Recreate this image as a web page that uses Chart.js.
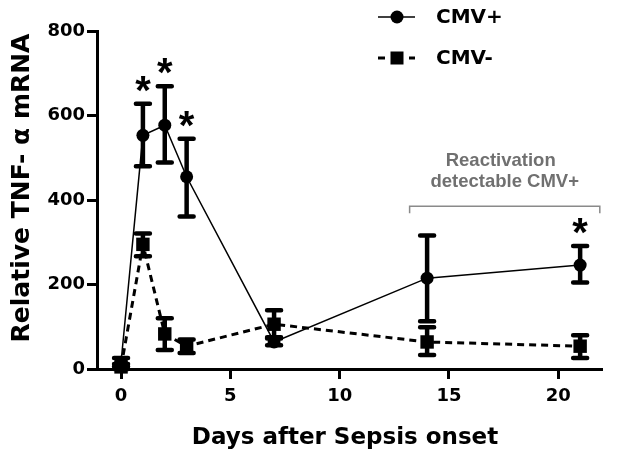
<!DOCTYPE html>
<html>
<head>
<meta charset="utf-8">
<script src="https://cdn.jsdelivr.net/npm/chart.js@4.4.1/dist/chart.umd.min.js"></script>
<style>
  html, body { margin: 0; padding: 0; background: #fff; }
  canvas { display: block; }
</style>
</head>
<body>
<canvas id="grafico" width="618" height="459"></canvas>
<script>
// dias apos o inicio da sepse
const dias = [0, 1, 2, 3, 7, 14, 21];

// CMV+ (circulos, linha continua)
const cmvPos = [16, 553, 577, 455, 64, 215, 246];
const cmvPosAlto = [26, 628, 669, 545, 72, 316, 291];
const cmvPosBaixo = [6, 480, 489, 361, 56, 113, 205];
const cmvPosSig = [false, true, true, true, false, false, true];

// CMV- (quadrados, linha tracejada)
const cmvNeg = [5, 295, 83, 54, 106, 64, 54];
const cmvNegAlto = [12, 321, 120, 70, 139, 99, 80];
const cmvNegBaixo = [0, 267, 45, 38, 75, 33, 26];

const ticksX = [0, 5, 10, 15, 20];
const ticksY = [0, 200, 400, 600, 800];

// faixa de reativacao (em dias) e altura do colchete
const faixaReativacao = [13.2, 21.9];
const alturaColchete = 385;

const fonteNum = "'DejaVu Sans', sans-serif";
const fonteAnot = "'Liberation Sans', Arial, sans-serif";

const extras = {
  id: 'extras',
  beforeDatasetsDraw(chart) {
    const ctx = chart.ctx;
    const x = chart.scales.x, y = chart.scales.y;
    const series = [[cmvPosAlto, cmvPosBaixo], [cmvNegAlto, cmvNegBaixo]];
    ctx.save();
    ctx.strokeStyle = '#000';
    ctx.lineWidth = 4.5;
    ctx.setLineDash([]);
    series.forEach(function (s) {
      dias.forEach(function (d, j) {
        const px = x.getPixelForValue(d);
        const yA = y.getPixelForValue(s[0][j]);
        const yB = y.getPixelForValue(s[1][j]);
        ctx.lineCap = 'butt';
        ctx.beginPath();
        ctx.moveTo(px, yA);
        ctx.lineTo(px, yB);
        ctx.stroke();
        ctx.lineCap = 'round';
        ctx.beginPath();
        ctx.moveTo(px - 7, yA); ctx.lineTo(px + 7, yA);
        ctx.moveTo(px - 7, yB); ctx.lineTo(px + 7, yB);
        ctx.stroke();
      });
    });
    ctx.restore();
  },
  afterDatasetsDraw(chart) {
    const ctx = chart.ctx;
    const x = chart.scales.x, y = chart.scales.y;
    ctx.save();

    // asteriscos
    ctx.fillStyle = '#000';
    ctx.font = 'bold 40px ' + fonteAnot;
    ctx.textAlign = 'center';
    ctx.textBaseline = 'alphabetic';
    cmvPosSig.forEach(function (sig, j) {
      if (!sig) return;
      const px = x.getPixelForValue(dias[j]);
      const py = y.getPixelForValue(cmvPosAlto[j]) - 23;
      ctx.fillText('*', px, py + 23);
    });

    // colchete de reativacao
    const x1 = x.getPixelForValue(faixaReativacao[0]);
    const x2 = x.getPixelForValue(faixaReativacao[1]);
    const yc = y.getPixelForValue(alturaColchete);
    ctx.strokeStyle = '#8a8a8a';
    ctx.lineWidth = 1.5;
    ctx.beginPath();
    ctx.moveTo(x1, yc + 7); ctx.lineTo(x1, yc); ctx.lineTo(x2, yc); ctx.lineTo(x2, yc + 7);
    ctx.stroke();
    ctx.fillStyle = '#707070';
    ctx.font = 'bold 18.5px ' + fonteAnot;
    ctx.textBaseline = 'middle';
    const xm = (x1 + x2) / 2;
    ctx.fillText('Reactivation', xm - 4, yc - 45);
    ctx.fillText('detectable CMV+', xm, yc - 24);

    // legenda
    ctx.fillStyle = '#000';
    ctx.strokeStyle = '#000';
    ctx.lineWidth = 1.5;
    ctx.beginPath();
    ctx.moveTo(378, 17); ctx.lineTo(415, 17);
    ctx.stroke();
    ctx.beginPath();
    ctx.arc(397, 17, 6.5, 0, Math.PI * 2);
    ctx.fill();
    ctx.lineWidth = 3;
    ctx.beginPath();
    ctx.moveTo(378, 58); ctx.lineTo(385, 58);
    ctx.moveTo(409, 58); ctx.lineTo(415, 58);
    ctx.stroke();
    ctx.fillRect(390.5, 51.5, 13, 13);
    ctx.font = 'bold 20px ' + fonteNum;
    ctx.textAlign = 'left';
    ctx.fillText('CMV+', 436, 18);
    ctx.fillText('CMV-', 436, 59);

    // titulos dos eixos
    ctx.textAlign = 'center';
    ctx.font = 'bold 23px ' + fonteNum;
    ctx.fillText('Days after Sepsis onset', 345, 438);
    ctx.translate(22, 188);
    ctx.rotate(-Math.PI / 2);
    ctx.font = 'bold 25px ' + fonteNum;
    ctx.fillText('Relative TNF- \u03b1 mRNA', 0, 0);
    ctx.restore();
  }
};

const ctx = document.getElementById('grafico').getContext('2d');
const grafico = new Chart(ctx, {
  type: 'line',
  data: {
    labels: dias,
    datasets: [{
      label: 'CMV+',
      data: dias.map(function (d, i) { return { x: d, y: cmvPos[i] }; }),
      borderColor: '#000',
      backgroundColor: '#000',
      borderWidth: 1.5,
      pointStyle: 'circle',
      pointRadius: 6.5,
      pointHoverRadius: 6.5,
      pointBorderWidth: 0,
      tension: 0,
      clip: false
    }, {
      label: 'CMV-',
      data: dias.map(function (d, i) { return { x: d, y: cmvNeg[i] }; }),
      borderColor: '#000',
      backgroundColor: '#000',
      borderWidth: 3,
      borderDash: [7, 5],
      pointStyle: 'rect',
      pointRadius: 9.5,
      pointHoverRadius: 9.5,
      pointBorderWidth: 0,
      tension: 0,
      clip: false
    }]
  },
  options: {
    responsive: false,
    animation: false,
    layout: { padding: { top: 31, right: 16, left: 0, bottom: 0 } },
    plugins: {
      legend: { display: false },
      tooltip: { enabled: false }
    },
    scales: {
      x: {
        type: 'linear',
        min: -1.1,
        max: 22,
        afterBuildTicks: function (s) { s.ticks = ticksX.map(function (v) { return { value: v }; }); },
        afterFit: function (s) { s.height = 90; },
        border: { display: true, color: '#000', width: 3 },
        grid: { drawOnChartArea: false, drawTicks: true, tickLength: 10, tickWidth: 3, tickColor: '#000' },
        ticks: { color: '#000', padding: 7, font: { family: fonteNum, size: 18, weight: 'bold' }, maxRotation: 0 }
      },
      y: {
        min: 0,
        max: 800,
        afterBuildTicks: function (s) { s.ticks = ticksY.map(function (v) { return { value: v }; }); },
        afterFit: function (s) { s.width = 97; },
        border: { display: true, color: '#000', width: 3 },
        grid: { drawOnChartArea: false, drawTicks: true, tickLength: 10, tickWidth: 3, tickColor: '#000' },
        ticks: { color: '#000', padding: 2, font: { family: fonteNum, size: 18, weight: 'bold' } }
      }
    }
  },
  plugins: [extras]
});
</script>
</body>
</html>
